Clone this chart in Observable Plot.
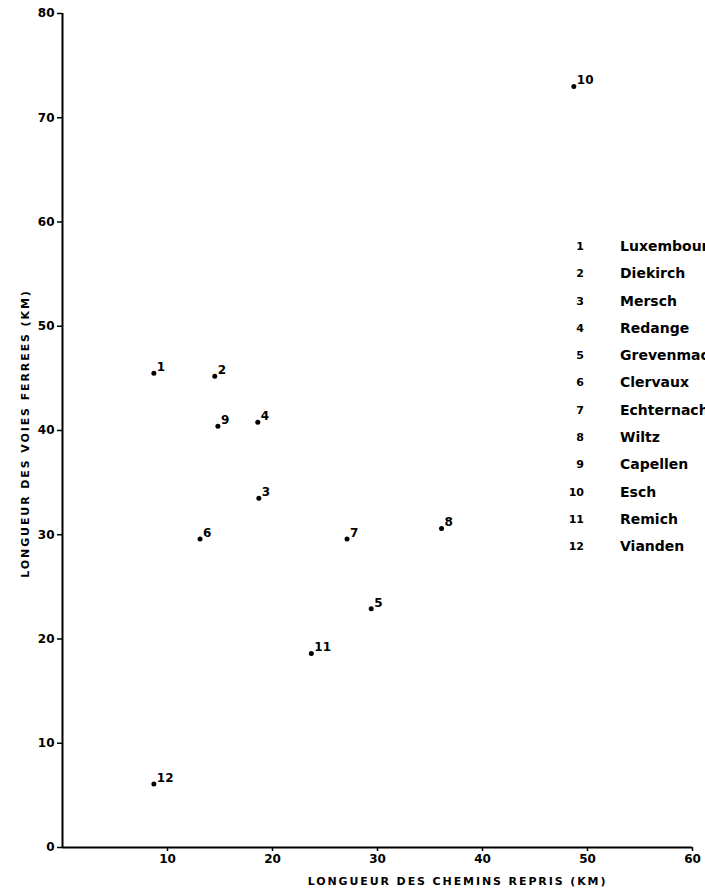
<!DOCTYPE html>
<html>
<head>
<meta charset="utf-8">
<script src="https://cdn.jsdelivr.net/npm/d3@7"></script>
<script src="https://cdn.jsdelivr.net/npm/@observablehq/plot@0.6"></script>
<style>
  html, body { margin: 0; padding: 0; background: #fff; overflow: hidden; width: 705px; height: 895px; }
  #wrap { position: relative; width: 705px; height: 895px; overflow: hidden; }
  #legend { position: absolute; left: 560px; top: 233px; font-family: "DejaVu Sans", sans-serif; font-weight: bold; font-size: 14px; color: #000; white-space: nowrap; }
  #legend .row { height: 27.3px; line-height: 27.3px; display: flex; }
  #legend .num { width: 24px; text-align: right; font-size: 11px; }
  #legend .name { margin-left: 36px; }
</style>
</head>
<body>
<div id="wrap">
  <div id="chart"></div>
  <div id="legend"></div>
</div>
<script>
// Data
const ids = [1, 2, 3, 4, 5, 6, 7, 8, 9, 10, 11, 12];
const names = ["Luxembourg", "Diekirch", "Mersch", "Redange", "Grevenmacher", "Clervaux", "Echternach", "Wiltz", "Capellen", "Esch", "Remich", "Vianden"];
const chemins = [8.7, 14.5, 18.7, 18.6, 29.4, 13.1, 27.1, 36.1, 14.8, 48.7, 23.7, 8.7];   // km (x)
const voies = [45.5, 45.2, 33.5, 40.8, 22.9, 29.6, 29.6, 30.6, 40.4, 73.0, 18.6, 6.1];   // km (y)
const xTicks = [10, 20, 30, 40, 50, 60];
const yTicks = [0, 10, 20, 30, 40, 50, 60, 70, 80];
const xLabel = "LONGUEUR DES CHEMINS REPRIS (KM)";
const yLabel = "LONGUEUR DES VOIES FERREES (KM)";

const data = ids.map((id, i) => ({ id, name: names[i], x: chemins[i], y: voies[i] }));

const chart = Plot.plot({
  width: 705,
  height: 895,
  marginLeft: 62,
  marginRight: 13,
  marginTop: 13,
  marginBottom: 48,
  style: { fontFamily: "DejaVu Sans, sans-serif", background: "#fff", color: "#000" },
  x: { domain: [0, 60] },
  y: { domain: [0, 80] },
  marks: [
    Plot.axisX({ ticks: xTicks, tickSize: 4, tickPadding: 3, fontSize: 12, fontWeight: "bold", label: null, strokeWidth: 1.5 }),
    Plot.axisY({ ticks: yTicks, tickSize: 5, tickPadding: 3, fontSize: 12, fontWeight: "bold", label: null, strokeWidth: 1.5 }),
    Plot.ruleX([0], { strokeWidth: 2 }),
    Plot.ruleY([0], { strokeWidth: 2 }),
    Plot.text([xLabel], { frameAnchor: "bottom", textAnchor: "middle", dy: 37, dx: 80, fontSize: 11, fontWeight: "bold" }),
    Plot.text([yLabel], { frameAnchor: "left", textAnchor: "middle", rotate: -90, dx: -37, dy: 3, fontSize: 11, fontWeight: "bold" }),
    Plot.dot(data, { x: "x", y: "y", r: 2.5, fill: "#000" }),
    Plot.text(data, { x: "x", y: "y", text: "id", textAnchor: "start", dx: 3, dy: -6, fontSize: 12, fontWeight: "bold" })
  ]
});
// letter spacing for axis titles
chart.querySelectorAll("text").forEach(t => {
  if (t.textContent === xLabel || t.textContent === yLabel) t.setAttribute("letter-spacing", "1.9");
});
document.getElementById("chart").appendChild(chart);

const legend = document.getElementById("legend");
ids.forEach((id, i) => {
  const row = document.createElement("div");
  row.className = "row";
  row.innerHTML = `<span class="num">${id}</span><span class="name">${names[i]}</span>`;
  legend.appendChild(row);
});
</script>
</body>
</html>
